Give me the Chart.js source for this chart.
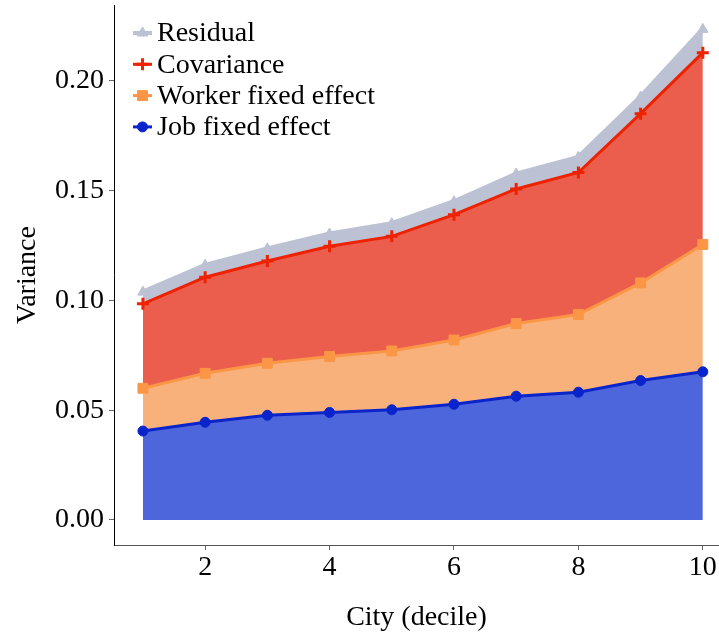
<!DOCTYPE html>
<html>
<head>
<meta charset="utf-8">
<script src="https://cdn.jsdelivr.net/npm/chart.js@4.4.1/dist/chart.umd.min.js"></script>
<style>
  html, body { margin: 0; padding: 0; background: #ffffff; }
  #wrap { width: 719px; height: 635px; }
</style>
</head>
<body>
<div id="wrap"><canvas id="chart" width="719" height="635"></canvas></div>
<script>
// Variance decomposition by city-size decile (stacked components)
const cityDecile        = [1, 2, 3, 4, 5, 6, 7, 8, 9, 10];
const jobFixedEffect    = [0.0405, 0.0445, 0.0477, 0.0490, 0.0502, 0.0527, 0.0564, 0.0582, 0.0635, 0.0675];
const workerFixedEffect = [0.0195, 0.0223, 0.0237, 0.0255, 0.0268, 0.0293, 0.0331, 0.0354, 0.0445, 0.0580];
const covariance        = [0.0385, 0.0438, 0.0466, 0.0502, 0.0522, 0.0571, 0.0613, 0.0647, 0.0771, 0.0874];
const residual          = [0.0053, 0.0054, 0.0055, 0.0056, 0.0058, 0.0059, 0.0068, 0.0069, 0.0076, 0.0106];
const xTickValues = [2, 4, 6, 8, 10];
const yTickValues = [0, 0.05, 0.10, 0.15, 0.20];

const FONT_FAMILY = '"Liberation Serif", "Times New Roman", serif';
const textFont = { family: FONT_FAMILY, size: 28, lineHeight: 1.2 };

const points = vals => cityDecile.map((c, i) => ({ x: c, y: vals[i] }));

const datasets = [
  {
    label: 'Job fixed effect',
    data: points(jobFixedEffect),
    borderColor: '#0a24cc',
    backgroundColor: '#4d66db',
    pointBackgroundColor: '#0a24cc',
    pointBorderColor: '#0a24cc',
    borderWidth: 3,
    pointStyle: 'circle',
    pointRadius: 5,
    pointBorderWidth: 1,
    fill: 'origin'
  },
  {
    label: 'Worker fixed effect',
    data: points(workerFixedEffect),
    borderColor: '#fb9646',
    backgroundColor: '#f9b17c',
    pointBackgroundColor: '#fb9646',
    pointBorderColor: '#fb9646',
    borderWidth: 3,
    pointStyle: 'rect',
    pointRadius: 7,
    pointBorderWidth: 1,
    fill: '-1'
  },
  {
    label: 'Covariance',
    data: points(covariance),
    borderColor: '#ee2200',
    backgroundColor: '#eb5e4d',
    pointBackgroundColor: '#ee2200',
    pointBorderColor: '#ee2200',
    borderWidth: 3,
    pointStyle: 'cross',
    pointRadius: 6,
    pointBorderWidth: 3,
    fill: '-1'
  },
  {
    label: 'Residual',
    data: points(residual),
    borderColor: '#bcc1d4',
    backgroundColor: '#bcc1d4',
    pointBackgroundColor: '#bcc1d4',
    pointBorderColor: '#bcc1d4',
    borderWidth: 5,
    pointStyle: 'triangle',
    pointRadius: 6,
    pointBorderWidth: 1,
    fill: '-1'
  }
];

// Legend drawn inside the plot area, top-left, topmost series first
const insideLegend = {
  id: 'insideLegend',
  afterDraw(chart) {
    const ctx = chart.ctx;
    const order = [3, 2, 1, 0];
    const x0 = 133, x1 = 152, textX = 157;
    const y0 = 33, step = 31.3;
    ctx.save();
    order.forEach((idx, row) => {
      const ds = chart.data.datasets[idx];
      const y = y0 + row * step;
      ctx.strokeStyle = ds.borderColor;
      ctx.lineWidth = idx === 3 ? 4 : 3;
      ctx.beginPath();
      ctx.moveTo(x0, y);
      ctx.lineTo(x1, y);
      ctx.stroke();
      ctx.fillStyle = ds.pointBackgroundColor;
      ctx.strokeStyle = ds.pointBorderColor;
      ctx.lineWidth = ds.pointBorderWidth;
      Chart.helpers.drawPoint(ctx, {
        pointStyle: ds.pointStyle,
        radius: ds.pointRadius,
        rotation: 0,
        borderWidth: ds.pointBorderWidth
      }, (x0 + x1) / 2, y);
      ctx.fillStyle = '#000000';
      ctx.font = `${textFont.size}px ${FONT_FAMILY}`;
      ctx.textAlign = 'left';
      ctx.textBaseline = 'middle';
      ctx.fillText(ds.label, textX, y + 1);
    });
    ctx.restore();
  }
};

new Chart(document.getElementById('chart'), {
  type: 'line',
  data: { datasets },
  plugins: [insideLegend],
  options: {
    responsive: false,
    animation: false,
    devicePixelRatio: 1,
    layout: { autoPadding: false, padding: { top: 5, right: 0, bottom: 0, left: 0 } },
    elements: { line: { tension: 0 } },
    plugins: {
      legend: { display: false },
      tooltip: { enabled: false }
    },
    scales: {
      x: {
        type: 'linear',
        min: 0.535,
        max: 10.26,
        afterBuildTicks: s => { s.ticks = xTickValues.map(v => ({ value: v })); },
        afterFit: s => { s.height = 90; s.paddingLeft = 0; s.paddingRight = 0; },
        grid: { display: true, drawOnChartArea: false, drawTicks: true, tickLength: 5, color: '#666666' },
        border: { display: true, color: '#555555', width: 1 },
        ticks: {
          font: textFont, color: '#000000', padding: 1,
          maxRotation: 0, autoSkip: false,
          callback: v => String(v)
        },
        title: {
          display: true, text: 'City (decile)', font: textFont, color: '#000000',
          padding: { top: 0, bottom: 1 }
        }
      },
      y: {
        type: 'linear',
        stacked: true,
        min: -0.0114,
        max: 0.2346,
        afterBuildTicks: s => { s.ticks = yTickValues.map(v => ({ value: v })); },
        afterFit: s => { s.width = 114; s.paddingTop = 0; s.paddingBottom = 0; },
        grid: { display: true, drawOnChartArea: false, drawTicks: true, tickLength: 5, color: '#666666' },
        border: { display: true, color: '#000000', width: 1 },
        ticks: {
          font: textFont, color: '#000000', padding: 5,
          autoSkip: false,
          callback: v => v.toFixed(2)
        },
        title: {
          display: true, text: 'Variance', font: textFont, color: '#000000',
          padding: { top: 11, bottom: 0 }
        }
      }
    }
  }
});
</script>
</body>
</html>
